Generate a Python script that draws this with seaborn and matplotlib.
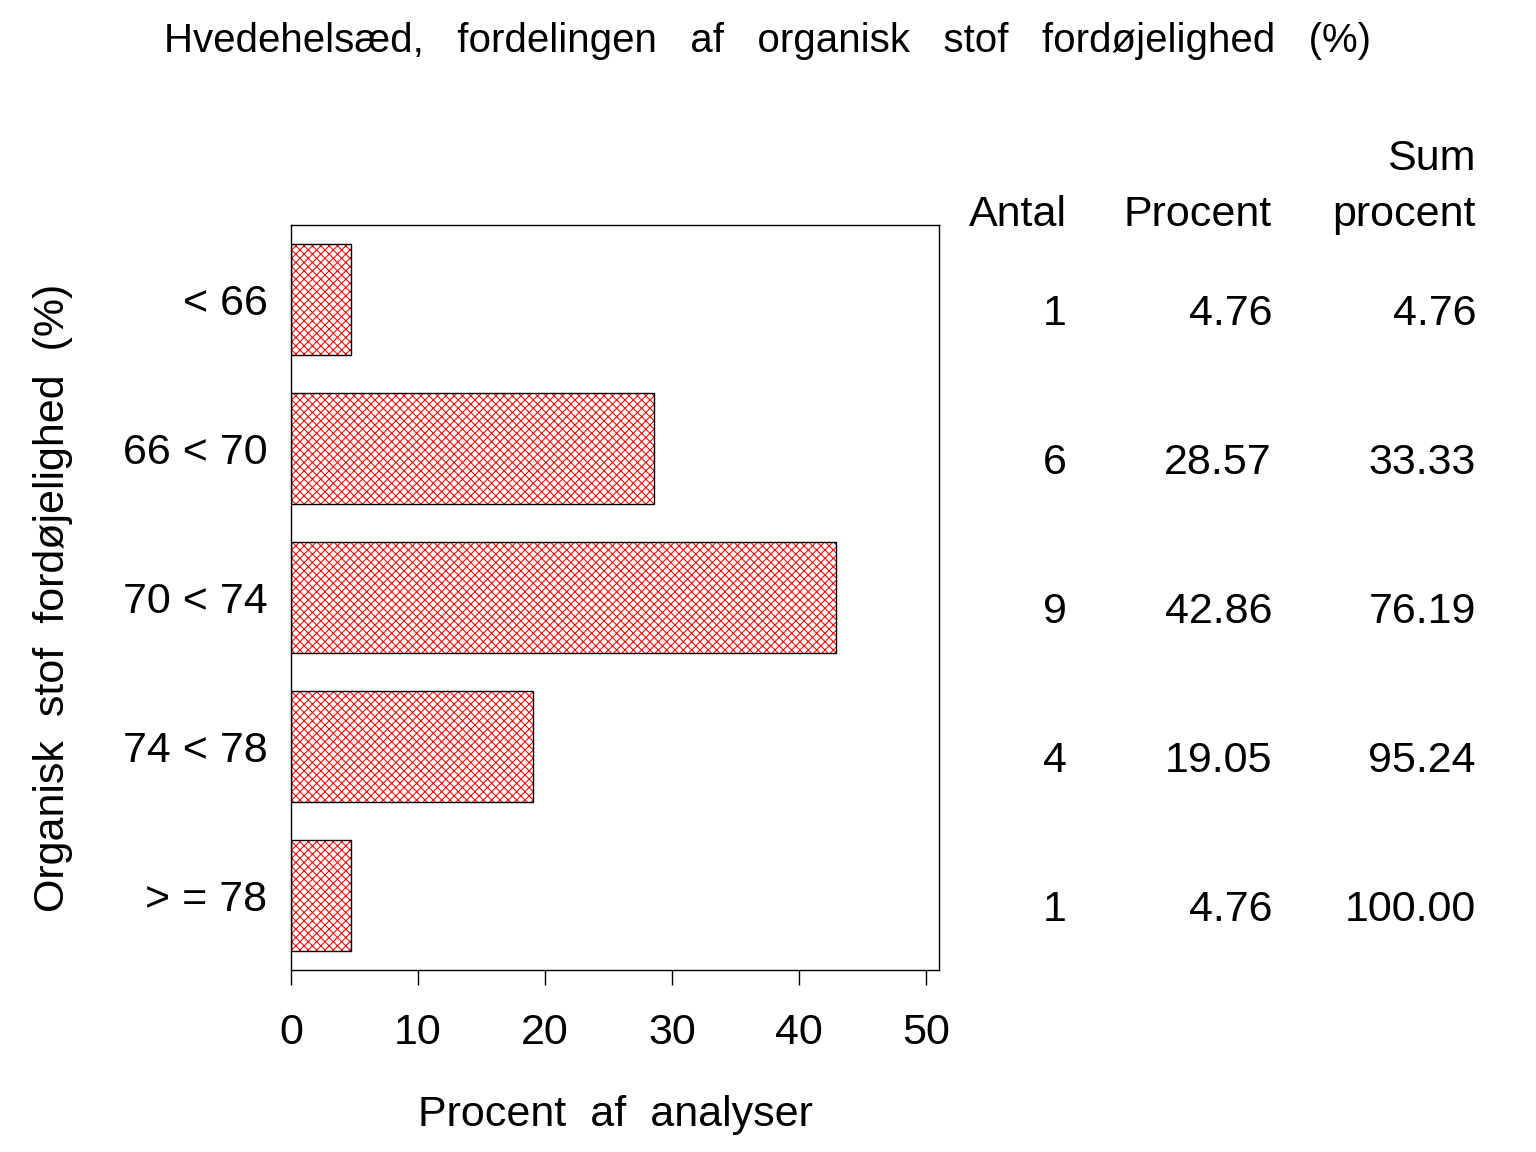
import matplotlib
matplotlib.use("Agg")
import matplotlib.pyplot as plt
import seaborn as sns
import pandas as pd

categories = ["< 66", "66 < 70", "70 < 74", "74 < 78", "> = 78"]
antal = [1, 6, 9, 4, 1]
procent = [4.76, 28.57, 42.86, 19.05, 4.76]
sum_procent = [4.76, 33.33, 76.19, 95.24, 100.00]
x_ticks = [0, 10, 20, 30, 40, 50]

df = pd.DataFrame({
    "kategori": categories,
    "procent": procent
})

sns.set_style("white")
plt.rcParams["font.family"] = ["Liberation Sans Narrow", "Liberation Sans", "DejaVu Sans"]
plt.rcParams["hatch.linewidth"] = 0.75
plt.rcParams["text.color"] = "black"
plt.rcParams["axes.labelcolor"] = "black"
plt.rcParams["xtick.color"] = "black"
plt.rcParams["ytick.color"] = "black"

fig = plt.figure(figsize=(15.36, 11.52), dpi=100)
ax = fig.add_axes([291 / 1536, 182 / 1152, 648 / 1536, 745 / 1152])

# hatch first (hatch colour follows edgecolor), then black outline on top
sns.barplot(
    data=df, x="procent", y="kategori", orient="h",
    color="white", edgecolor="red", hatch="xxxx", linewidth=0,
    width=0.75, ax=ax
)
sns.barplot(
    data=df, x="procent", y="kategori", orient="h",
    fill=False, edgecolor="black", linewidth=1.0,
    width=0.75, ax=ax
)

ax.set_xlim(0, 51)
ax.set_ylim(4.5, -0.5)
ax.set_xticks(x_ticks)
ax.tick_params(axis="x", length=11, width=1, direction="out", pad=20,
               labelsize=31, bottom=True)
ax.tick_params(axis="y", length=0, pad=17, labelsize=31)
for s in ax.spines.values():
    s.set_linewidth(1)
    s.set_color("black")

ax.set_xlabel("Procent  af  analyser", fontsize=31, labelpad=30)
ax.set_ylabel("Organisk  stof  fordøjelighed  (%)", fontsize=31)
ax.yaxis.set_label_coords(-0.337, 0.5)

fig.text(0.5, 1 - 52 / 1152, "Hvedehelsæd,   fordelingen   af   organisk   stof   fordøjelighed   (%)",
         ha="center", va="baseline", fontsize=29)

# table to the right
tr = ax.get_yaxis_transform()
col_x = [(1067 - 291) / 648, (1272 - 291) / 648, (1476 - 291) / 648]
ax.text(col_x[0], -0.49, "Antal", transform=tr, ha="right", va="baseline", fontsize=31, clip_on=False)
ax.text(col_x[1], -0.49, "Procent", transform=tr, ha="right", va="baseline", fontsize=31, clip_on=False)
ax.text(col_x[2], -0.866, "Sum", transform=tr, ha="right", va="baseline", fontsize=31, clip_on=False)
ax.text(col_x[2], -0.49, "procent", transform=tr, ha="right", va="baseline", fontsize=31, clip_on=False)
for i in range(len(categories)):
    ax.text(col_x[0], i + 0.17, f"{antal[i]}", transform=tr, ha="right", va="baseline", fontsize=31, clip_on=False)
    ax.text(col_x[1], i + 0.17, f"{procent[i]:.2f}", transform=tr, ha="right", va="baseline", fontsize=31, clip_on=False)
    ax.text(col_x[2], i + 0.17, f"{sum_procent[i]:.2f}", transform=tr, ha="right", va="baseline", fontsize=31, clip_on=False)

fig.savefig("out.png", dpi=100)
